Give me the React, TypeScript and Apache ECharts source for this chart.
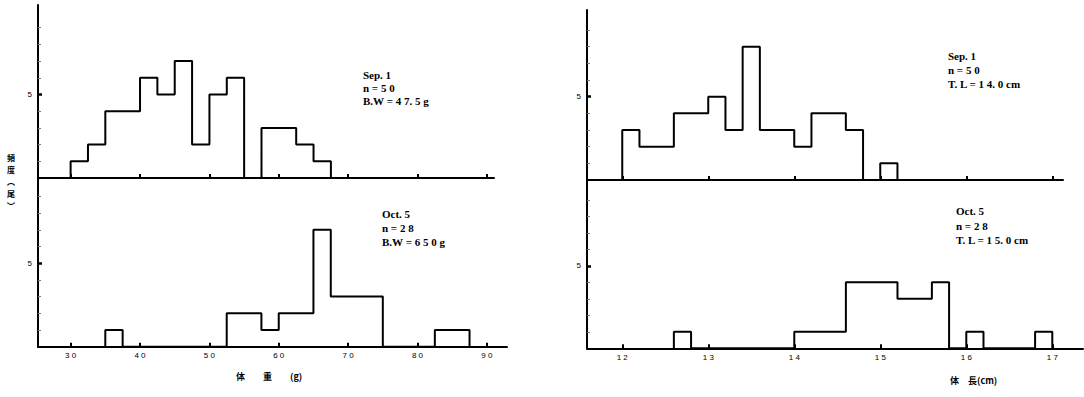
import React, { useEffect, useRef } from "react";
import * as echarts from "echarts";

// ---- data ----
const weightBinWidth = 2.5;
const lengthBinWidth = 0.2;

const sepWeightStart = 30;
const sepWeightCounts = [1, 2, 4, 4, 6, 5, 7, 2, 5, 6, 0, 3, 3, 2, 1];
const octWeightStart = 35;
const octWeightCounts = [1, 0, 0, 0, 0, 0, 0, 2, 2, 1, 2, 2, 7, 3, 3, 3, 0, 0, 0, 1, 1];
const sepLengthStart = 12.0;
const sepLengthCounts = [3, 2, 2, 4, 4, 5, 3, 8, 3, 3, 2, 4, 4, 3, 0, 1];
const octLengthStart = 12.6;
const octLengthCounts = [1, 0, 0, 0, 0, 0, 0, 1, 1, 1, 4, 4, 4, 3, 3, 4, 0, 1, 0, 0, 0, 1];

const weightTicks = [30, 40, 50, 60, 70, 80, 90];
const lengthTicks = [12, 13, 14, 15, 16, 17];
const countTicks = [5];

const sepWeightNote = ["Sep. 1", "n = 5 0", "B.W = 4 7. 5 g"];
const octWeightNote = ["Oct. 5", "n = 2 8", "B.W = 6 5 0 g"];
const sepLengthNote = ["Sep. 1", "n = 5 0", "T. L = 1 4. 0 cm"];
const octLengthNote = ["Oct. 5", "n = 2 8", "T. L = 1 5. 0 cm"];

const weightAxisName = "体　　重　　(g)";
const lengthAxisName = "体　長(cm)";
const countAxisName = ["頻", "度", "︵", "尾", "︶"];

function outline(start: number, width: number, counts: number[]) {
  const pts: number[][] = [[start, 0]];
  counts.forEach((c, i) => {
    const x0 = +(start + i * width).toFixed(4);
    const x1 = +(start + (i + 1) * width).toFixed(4);
    pts.push([x0, c], [x1, c]);
  });
  pts.push([+(start + counts.length * width).toFixed(4), 0]);
  return pts;
}

const spaced = (v: number) => String(v).split("").join(" ");

export default function App() {
  const ref = useRef<HTMLDivElement>(null);
  useEffect(() => {
    if (!ref.current) return;
    const chart = echarts.init(ref.current, undefined, { renderer: "svg" });

    const grids = [
      { left: 38, top: 5, width: 456, height: 173 },
      { left: 38, top: 178, width: 469, height: 168.7 },
      { left: 587, top: 10, width: 476, height: 170 },
      { left: 587, top: 180, width: 496, height: 168.3 },
    ];
    const xRanges = [
      [25.3, 91.0],
      [25.3, 92.9],
      [11.59, 17.125],
      [11.59, 17.357],
    ];
    const yMax = [10.36, 10.1, 10.2, 10.2];
    const xTickSets = [weightTicks, weightTicks, lengthTicks, lengthTicks];
    const showXLabels = [false, true, false, true];

    const xAxis = grids.map((_, i) => ({
      type: "value",
      gridIndex: i,
      min: xRanges[i][0],
      max: xRanges[i][1],
      axisLine: { show: true, onZero: false, lineStyle: { color: "#000", width: 2 } },
      axisTick: {
        show: true,
        inside: true,
        length: 4,
        customValues: xTickSets[i],
        lineStyle: { color: "#000", width: 2 },
      },
      axisLabel: {
        show: showXLabels[i],
        customValues: xTickSets[i],
        formatter: (v: number) => spaced(v),
        fontSize: 8,
        fontFamily: "Liberation Sans",
        color: "#000",
        margin: 5,
      },
      splitLine: { show: false },
    }));

    const yAxis = grids.map((_, i) => ({
      type: "value",
      gridIndex: i,
      min: 0,
      max: yMax[i],
      interval: 5,
      axisLine: { show: true, lineStyle: { color: "#000", width: 2 } },
      axisTick: {
        show: true,
        inside: true,
        length: 4,
        customValues: countTicks,
        lineStyle: { color: "#000", width: 2.5 },
      },
      minorTick: { show: true, splitNumber: 5, length: 3, lineStyle: { color: "#777", width: 1 } },
      axisLabel: {
        show: true,
        customValues: countTicks,
        fontSize: 8,
        fontFamily: "Liberation Sans",
        color: "#000",
        margin: 6,
      },
      splitLine: { show: false },
    }));

    const hist = [
      outline(sepWeightStart, weightBinWidth, sepWeightCounts),
      outline(octWeightStart, weightBinWidth, octWeightCounts),
      outline(sepLengthStart, lengthBinWidth, sepLengthCounts),
      outline(octLengthStart, lengthBinWidth, octLengthCounts),
    ];

    const series = hist.map((d, i) => ({
      type: "line",
      xAxisIndex: i,
      yAxisIndex: i,
      data: d,
      symbol: "none",
      lineStyle: { color: "#000", width: 2 },
      silent: true,
    }));

    const note = (lines: string[], x: number, y: number, lh: number) => ({
      type: "text",
      x,
      y,
      style: {
        text: lines.join("\n"),
        font: "bold 11px 'Liberation Serif'",
        fill: "#000",
        lineHeight: lh,
        align: "left",
        verticalAlign: "top",
        textAlign: "left",
        textVerticalAlign: "top",
      },
    });

    const graphic: any[] = [
      note(sepWeightNote, 363, 68, 13),
      note(octWeightNote, 382, 207, 14),
      note(sepLengthNote, 948, 49, 14),
      note(octLengthNote, 956, 204, 14.5),
      {
        type: "text",
        x: 236,
        y: 372,
        style: {
          text: weightAxisName,
          font: "bold 9px 'Noto Sans CJK JP'",
          fill: "#000",
          align: "left",
          verticalAlign: "top",
          textAlign: "left",
          textVerticalAlign: "top",
        },
      },
      {
        type: "text",
        x: 950,
        y: 376,
        style: {
          text: lengthAxisName,
          font: "bold 9px 'Noto Sans CJK JP'",
          fill: "#000",
          align: "left",
          verticalAlign: "top",
          textAlign: "left",
          textVerticalAlign: "top",
        },
      },
      {
        type: "text",
        x: 11,
        y: 151,
        style: {
          text: countAxisName.join("\n"),
          font: "bold 8px 'Noto Sans CJK JP'",
          fill: "#000",
          lineHeight: 12,
          align: "center",
          verticalAlign: "top",
          textAlign: "center",
          textVerticalAlign: "top",
        },
      },
    ];

    chart.setOption({
      animation: false,
      backgroundColor: "#fff",
      grid: grids.map((g) => ({ ...g, containLabel: false })),
      xAxis,
      yAxis,
      series,
      graphic,
    } as any);

    return () => chart.dispose();
  }, []);

  return (
    <div
      ref={ref}
      style={{ position: "absolute", left: 0, top: 0, width: 1084, height: 397 }}
    />
  );
}
